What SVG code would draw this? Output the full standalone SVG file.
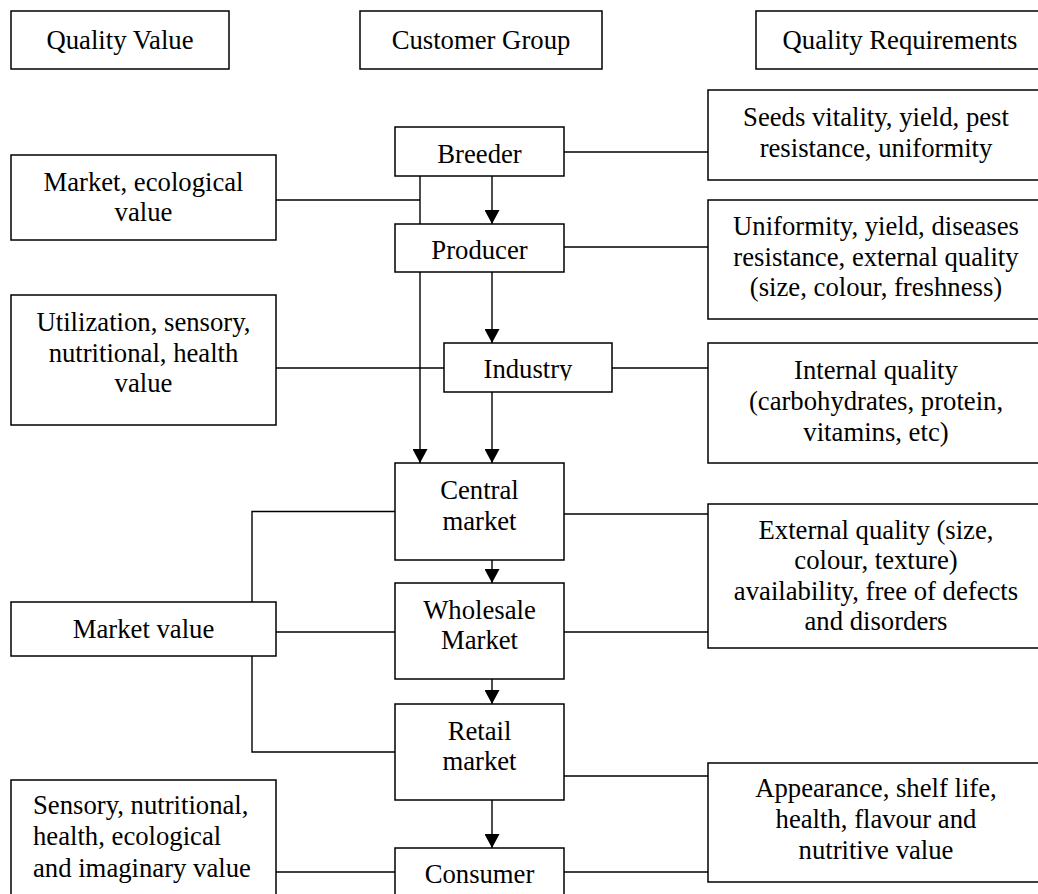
<svg xmlns="http://www.w3.org/2000/svg" width="1038" height="894" viewBox="0 0 1038 894">
<style>
.box{fill:#fff;stroke:#000;stroke-width:1.5}
.ln{fill:none;stroke:#000;stroke-width:1.4}
text{font-family:"Liberation Serif","Times New Roman",serif;font-size:26.7px;fill:#000}
.c{text-anchor:middle}
</style>
<defs>
<marker id="ah" viewBox="0 0 14 15" refX="14" refY="7.5" markerWidth="14" markerHeight="15" markerUnits="userSpaceOnUse" orient="auto">
<path d="M0,0 L14,7.5 L0,15 z" fill="#000"/>
</marker>
<clipPath id="clipInd"><rect x="444" y="343" width="168" height="37.5"/></clipPath>
</defs>
<rect width="1038" height="894" fill="#fff"/>
<g id="connectors">
<line class="ln" x1="420" y1="176" x2="420" y2="463" marker-end="url(#ah)"/>
<line class="ln" x1="492" y1="176" x2="492" y2="224" marker-end="url(#ah)"/>
<line class="ln" x1="492" y1="272" x2="492" y2="343" marker-end="url(#ah)"/>
<line class="ln" x1="492" y1="392" x2="492" y2="463" marker-end="url(#ah)"/>
<line class="ln" x1="492" y1="560" x2="492" y2="583" marker-end="url(#ah)"/>
<line class="ln" x1="492" y1="679" x2="492" y2="704" marker-end="url(#ah)"/>
<line class="ln" x1="492" y1="800" x2="492" y2="848" marker-end="url(#ah)"/>
<line class="ln" x1="276" y1="200" x2="420" y2="200"/>
<line class="ln" x1="276" y1="368" x2="444" y2="368"/>
<line class="ln" x1="276" y1="632" x2="395" y2="632"/>
<path class="ln" d="M395,511.5 H252 V602"/>
<path class="ln" d="M252,656 V752 H395"/>
<line class="ln" x1="276" y1="872" x2="395" y2="872"/>
<line class="ln" x1="564" y1="152" x2="708" y2="152"/>
<line class="ln" x1="564" y1="247" x2="708" y2="247"/>
<line class="ln" x1="612" y1="368" x2="708" y2="368"/>
<line class="ln" x1="564" y1="514" x2="708" y2="514"/>
<line class="ln" x1="564" y1="632" x2="708" y2="632"/>
<line class="ln" x1="564" y1="776" x2="708" y2="776"/>
<line class="ln" x1="564" y1="872" x2="708" y2="872"/>
</g>
<g id="hdr-quality-value"><rect class="box" x="11" y="11" width="218" height="58"/><text class="c" x="120" y="49">Quality Value</text></g>
<g id="hdr-customer-group"><rect class="box" x="360" y="11" width="242" height="58"/><text class="c" x="481" y="49">Customer Group</text></g>
<g id="hdr-quality-req"><rect class="box" x="756" y="11" width="288" height="58"/><text class="c" x="900" y="49">Quality Requirements</text></g>

<g id="breeder"><rect class="box" x="395" y="127" width="169" height="49"/><text class="c" x="479.5" y="163">Breeder</text></g>
<g id="producer"><rect class="box" x="395" y="224" width="169" height="48"/><text class="c" x="479.5" y="259">Producer</text></g>
<g id="industry"><rect class="box" x="444" y="343" width="168" height="49"/><text class="c" x="528" y="378" clip-path="url(#clipInd)">Industry</text></g>
<g id="central"><rect class="box" x="395" y="463" width="169" height="97"/><text class="c" x="479.5" y="499">Central</text><text class="c" x="479.5" y="529.5">market</text></g>
<g id="wholesale"><rect class="box" x="395" y="583" width="169" height="96"/><text class="c" x="479.5" y="618.5">Wholesale</text><text class="c" x="479.5" y="649">Market</text></g>
<g id="retail"><rect class="box" x="395" y="704" width="169" height="96"/><text class="c" x="479.5" y="739.5">Retail</text><text class="c" x="479.5" y="770">market</text></g>
<g id="consumer"><rect class="box" x="395" y="848" width="169" height="60"/><text class="c" x="479.5" y="882.5">Consumer</text></g>

<g id="qv-market-eco"><rect class="box" x="11" y="155" width="265" height="85"/><text class="c" x="143.5" y="191">Market, ecological</text><text class="c" x="143.5" y="221">value</text></g>
<g id="qv-utilization"><rect class="box" x="11" y="295" width="265" height="130"/><text class="c" x="143.5" y="331">Utilization, sensory,</text><text class="c" x="143.5" y="362">nutritional, health</text><text class="c" x="143.5" y="392">value</text></g>
<g id="qv-market"><rect class="box" x="11" y="602" width="265" height="54"/><text class="c" x="143.5" y="638">Market value</text></g>
<g id="qv-sensory"><rect class="box" x="11" y="780" width="265" height="130"/><text x="33" y="814">Sensory, nutritional,</text><text x="33" y="845">health, ecological</text><text x="33" y="876.5">and imaginary value</text></g>

<g id="qr-seeds"><rect class="box" x="708" y="90" width="336" height="90"/><text class="c" x="876" y="126">Seeds vitality, yield, pest</text><text class="c" x="876" y="157">resistance, uniformity</text></g>
<g id="qr-uniformity"><rect class="box" x="708" y="200" width="336" height="119"/><text class="c" x="876" y="235">Uniformity, yield, diseases</text><text class="c" x="876" y="266">resistance, external quality</text><text class="c" x="876" y="296">(size, colour, freshness)</text></g>
<g id="qr-internal"><rect class="box" x="708" y="343" width="336" height="120"/><text class="c" x="876" y="379">Internal quality</text><text class="c" x="876" y="410">(carbohydrates, protein,</text><text class="c" x="876" y="441">vitamins, etc)</text></g>
<g id="qr-external"><rect class="box" x="708" y="504" width="336" height="144"/><text class="c" x="876" y="538.5">External quality (size,</text><text class="c" x="876" y="569">colour, texture)</text><text class="c" x="876" y="599.5">availability, free of defects</text><text class="c" x="876" y="630">and disorders</text></g>
<g id="qr-appearance"><rect class="box" x="708" y="763" width="336" height="119"/><text class="c" x="876" y="797">Appearance, shelf life,</text><text class="c" x="876" y="828">health, flavour and</text><text class="c" x="876" y="858.5">nutritive value</text></g>
</svg>
